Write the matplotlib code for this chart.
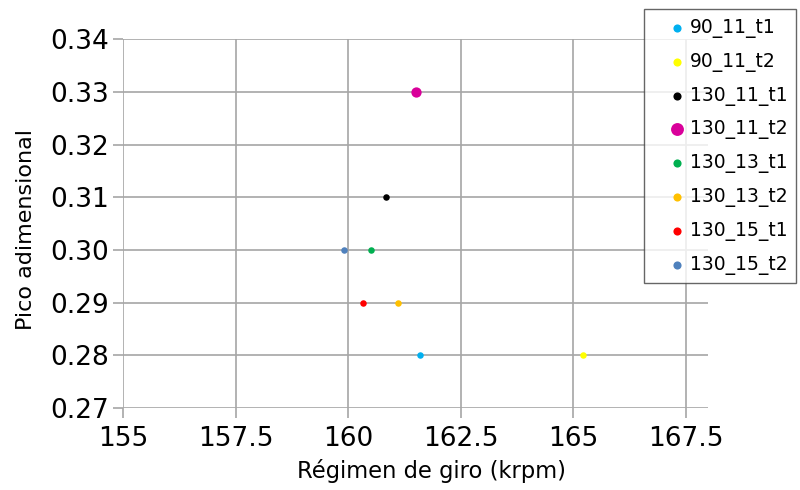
import matplotlib
matplotlib.use('Agg')
import matplotlib.pyplot as plt

# Series names, colors and points (regimen de giro in krpm, pico adimensional)
labels = ['90_11_t1', '90_11_t2', '130_11_t1', '130_11_t2',
          '130_13_t1', '130_13_t2', '130_15_t1', '130_15_t2']
colors = ['#00b0f0', '#ffff00', '#000000', '#d9009a',
          '#00b050', '#ffc000', '#ff0000', '#4f81bd']
x_vals = [161.6, 165.23, 160.85, 161.5, 160.5, 161.1, 160.33, 159.9]
y_vals = [0.28, 0.28, 0.31, 0.33, 0.30, 0.29, 0.29, 0.30]
sizes = [22, 22, 22, 55, 22, 22, 22, 22]

x_ticks = [155, 157.5, 160, 162.5, 165, 167.5]
x_ticklabels = ['155', '157.5', '160', '162.5', '165', '167.5']
y_ticks = [0.27, 0.28, 0.29, 0.30, 0.31, 0.32, 0.33, 0.34]

fig = plt.figure(figsize=(8, 4.9), dpi=100)
ax = fig.add_axes([0.154, 0.167, 0.731, 0.753])

for lab, c, xv, yv, s in zip(labels, colors, x_vals, y_vals, sizes):
    ax.scatter([xv], [yv], s=s, color=c, label=lab, zorder=3, linewidths=0)

ax.set_xlim(155, 168)
ax.set_ylim(0.27, 0.34)
ax.set_xticks(x_ticks)
ax.set_xticklabels(x_ticklabels)
ax.set_yticks(y_ticks)
ax.set_yticklabels(['%.2f' % v for v in y_ticks])

ax.grid(True, color='#a6a6a6', linewidth=1.2)
for sp in ax.spines.values():
    sp.set_visible(False)
ax.tick_params(axis='both', colors='#a6a6a6', length=7, width=1.2,
               labelcolor='black', labelsize=19)
ax.tick_params(axis='x', pad=6)

ax.set_xlabel('Régimen de giro (krpm)', fontsize=16.3)
ax.set_ylabel('Pico adimensional', fontsize=16)
ax.xaxis.set_label_coords(0.528, -0.138)
ax.yaxis.set_label_coords(-0.149, 0.485)

leg = ax.legend(loc='upper left', bbox_to_anchor=(0.89, 1.081), fontsize=13.5,
                borderaxespad=0, frameon=True, fancybox=False,
                edgecolor='#404040', labelspacing=0.74, handletextpad=-0.7,
                handlelength=2.7, borderpad=0.45, markerscale=1.25)
leg.get_frame().set_linewidth(1.0)
leg.set_zorder(5)

fig.savefig('out.png', dpi=100)
